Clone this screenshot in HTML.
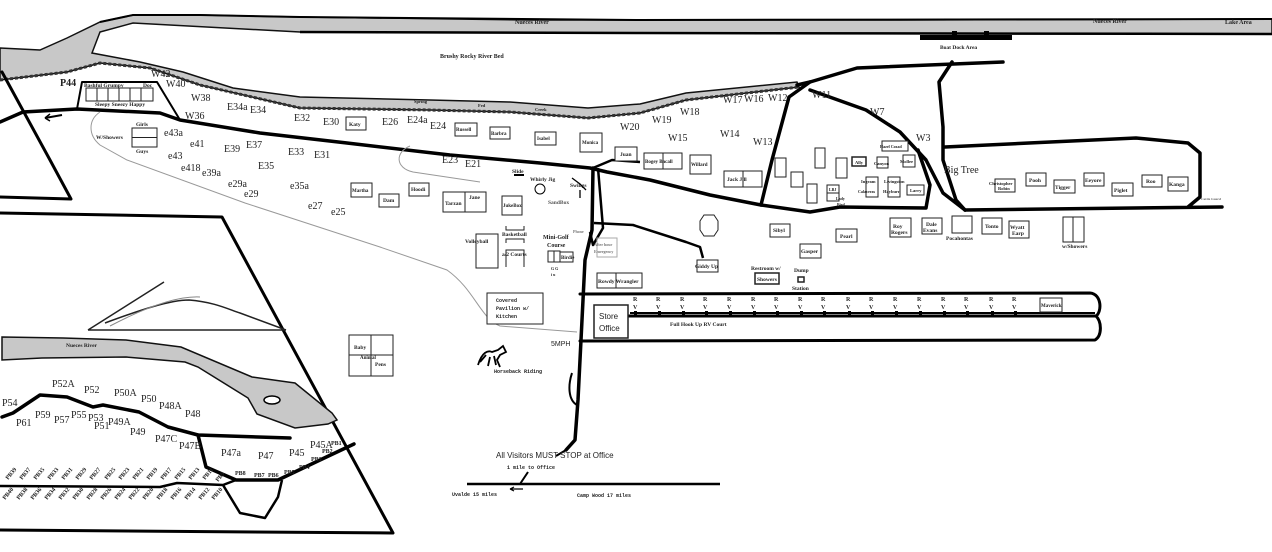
<!DOCTYPE html>
<html><head><meta charset="utf-8"><style>
html,body{margin:0;padding:0;background:#fff;}
svg{display:block;}
text{font-family:"Liberation Serif",serif;fill:#222;}
.s{font-size:10px;}
.t{font-size:5.5px;font-weight:bold;}
.m{font-size:5px;font-family:"Liberation Mono",monospace;font-weight:bold;}
.r{fill:none;stroke:#000;stroke-width:3.5;stroke-linejoin:round;stroke-linecap:round;}
.r2{fill:none;stroke:#000;stroke-width:2.5;stroke-linejoin:round;}
.b{fill:#fff;stroke:#222;stroke-width:1;}
.g{fill:none;stroke:#999;stroke-width:1;}
</style></head><body>
<svg width="1272" height="552" viewBox="0 0 1272 552" xmlns="http://www.w3.org/2000/svg">
<rect width="1272" height="552" fill="#fff"/>
<!-- top river -->
<path d="M0,48 L40,50 L67,38 L100,22 L133,15 L200,15 L300,17 L530,20 L900,20 L1272,19 L1272,34 L640,33 L300,32 L133,23 L100,32 L92,53 L140,62 L183,72 L233,88 L300,97 L430,100 L510,102 L588,108 L640,104 L686,93 L797,82 L799,87 L686,100 L640,113 L588,118 L510,112 L430,110 L300,108 L200,85 L150,68 L100,63 L67,72 L0,80 Z" fill="#c8c8c8" stroke="#111" stroke-width="1.5"/>
<path d="M0,80 L67,72 L100,63 L150,68 L200,85 L300,108 L430,110 L510,112 L588,118 L640,113 L686,100 L799,87" fill="none" stroke="#333" stroke-width="3" stroke-dasharray="3,2"/>
<path d="M300,32 L640,33 L1272,34" fill="none" stroke="#000" stroke-width="2.5"/>
<path d="M100,22 L133,15 L200,15 L300,17 L640,20 L1272,19" fill="none" stroke="#000" stroke-width="2"/>
<text x="515" y="24" class="t" style="font-size:6px">Nueces River</text>
<text x="1093" y="23" class="t" style="font-size:6px">Nueces River</text>
<text x="1225" y="24" class="t" style="font-size:6px">Lake Area</text>
<rect x="920" y="35" width="92" height="5" fill="#000"/>
<rect x="952" y="31" width="5" height="6" fill="#000"/><rect x="984" y="31" width="5" height="6" fill="#000"/>
<text x="940" y="49" class="t">Boat Dock Area</text>
<text x="440" y="58" class="t" style="font-size:6px">Brushy Rocky River Bed</text>
<text x="414" y="103" class="t" style="font-size:4.5px">Spring</text>
<text x="478" y="107" class="t" style="font-size:4.5px">Fed</text>
<text x="535" y="111" class="t" style="font-size:4.5px">Creek</text>
<!-- roads -->
<path class="r" d="M0,122 L23,112 L77,109 L160,113 L180,120 L260,133 L347,143 L450,155 L540,163 L590,168 L607,172 L650,180 L710,195 L761,205"/>
<path class="r" d="M77,109 L82,82 L157,82 L180,120" style="stroke-width:2"/>
<path class="r" d="M2,72 L50,160 L71,199 L0,197" style="stroke-width:3"/>
<path class="r" d="M0,213 L222,217 L393,533 L0,530" style="stroke-width:3"/>
<path d="M45,118 L62,115" stroke="#000" stroke-width="2"/><path d="M45,118 l5,-4 M45,118 l5,3" stroke="#000" stroke-width="1.5"/>
<path class="g" d="M100,112 C88,120 88,135 100,145 L127,160 L245,203 L380,247 L447,270 C475,290 480,318 500,326 L577,332"/>
<path class="g" d="M410,146 C395,152 395,168 413,172 L480,182"/>
<!-- vertical road -->
<path class="r" d="M593,168 L592,230 L585,260 L581,340 L578,400 L575,440 L566,450"/>
<path class="r2" d="M598,168 L603,228 L593,245 L590,232"/>
<path d="M572,373 C568,385 568,400 577,405" fill="none" stroke="#000" stroke-width="2"/>
<path class="r2" d="M593,168 L612,160 L640,162"/>
<path class="r2" d="M594,223 L633,225 L686,242 L700,247 L703,258"/>
<!-- W area roads -->
<path class="r" d="M797,85 L810,82 L857,68 L1003,62"/>
<path class="r" d="M952,62 L939,82 L943,127 L943,160 L956,200 L965,210"/>
<path class="r" d="M810,82 L789,97 L772,160 L761,205 L810,212 L840,207 L926,208 L930,185 L918,150"/>
<path class="r" d="M810,90 L866,110 L900,132 L926,160 L943,193 L965,210"/>
<path class="r" d="M945,147 L1029,143 L1136,138 L1188,143 L1200,153 L1200,197 L1188,207 M965,210 L1222,207"/>
<!-- inset river -->
<path d="M2,337 L63,338 L126,340 L181,347 L252,377 L295,383 L332,413 L337,420 L328,424 L295,428 L257,414 L248,398 L198,367 L185,362 L126,357 L42,358 L2,360 Z" fill="#c8c8c8" stroke="#111" stroke-width="1.5"/>
<text x="66" y="347" class="t" style="font-size:5.5px">Nueces River</text>
<path d="M88,330 L164,282 M88,330 L286,330 M105,323 C140,310 170,300 189,300 C215,302 230,310 240,313 L286,330" fill="none" stroke="#222" stroke-width="1.5"/>
<path d="M110,326 C150,305 180,296 200,297" fill="none" stroke="#888" stroke-width="1"/>
<ellipse cx="272" cy="400" rx="8" ry="4" fill="#fff" stroke="#000" stroke-width="1.5"/>
<path class="r" d="M2,417 L13,413 L40,395 L67,397 L93,407 L103,405 L139,412 L168,427 L198,435 L290,438"/>
<path class="r" d="M198,435 L206,467 L236,480 L278,480 L320,460 L354,444"/>
<path class="r2" d="M0,486 L160,487 L177,483 L223,485 L236,480 M223,485 L240,513 L265,518 L278,497 L282,480"/>
<!-- Bottom road -->
<path d="M566,450 L556,456" stroke="#000" stroke-width="2"/>
<path d="M528,472 L520,484" stroke="#000" stroke-width="2"/>
<path d="M467,484 L720,484" stroke="#000" stroke-width="2.5"/>
<path d="M510,489 L523,489 M510,489 l4,-2 M510,489 l4,2" stroke="#000" stroke-width="1.2"/>
<text x="496" y="458" style="font-family:'Liberation Sans',sans-serif;font-size:8px">All Visitors MUST STOP at Office</text>
<text x="507" y="469" class="m">1 mile to Office</text>
<text x="452" y="496" class="m">Uvalde 15 miles</text>
<text x="577" y="497" class="m">Camp Wood 17 miles</text>
<text x="551" y="346" style="font-family:'Liberation Sans',sans-serif;font-size:7px">5MPH</text>
<!-- RV court -->
<path d="M580,294 L1090,293 C1102,294 1102,312 1096,316 L600,316 M1096,316 C1102,322 1102,336 1095,340 L580,341" class="r" style="stroke-width:3"/>
<path d="M630,313 L1095,313" stroke="#000" stroke-width="2"/>
<rect x="594" y="305" width="34" height="33" class="b" style="stroke-width:1.5"/>
<text x="599" y="319" style="font-family:'Liberation Sans',sans-serif;font-size:8px">Store</text>
<text x="599" y="331" style="font-family:'Liberation Sans',sans-serif;font-size:8px">Office</text>
<text x="670" y="326" class="t">Full Hook Up RV Court</text>
<rect x="1040" y="298" width="22" height="14" class="b"/><text x="1041" y="307" class="t" style="font-size:5px">Maverick</text>
<!-- Boxes -->
<g>
<rect x="86" y="88" width="67" height="13" class="b"/>
<path d="M97,88v13M108,88v13M119,88v13M130,88v13M141,88v13" stroke="#222"/>
<text x="84" y="87" class="t">Bashful Grumpy</text><text x="143" y="87" class="t">Doc</text>
<text x="95" y="106" class="t">Sleepy  Sneezy Happy</text>
<rect x="132" y="128" width="25" height="19" class="b"/><path d="M132,137.5h25" stroke="#222"/>
<text x="136" y="126" class="t">Girls</text><text x="136" y="153" class="t">Guys</text>
<text x="96" y="139" class="t">W/Showers</text>
<rect x="346" y="117" width="20" height="13" class="b"/><text x="349" y="126" class="t">Katy</text>
<rect x="455" y="123" width="22" height="13" class="b"/><text x="456" y="131" class="t" style="font-size:5px">Russell</text>
<rect x="490" y="127" width="20" height="12" class="b"/><text x="491" y="135" class="t" style="font-size:5px">Barbra</text>
<rect x="535" y="132" width="21" height="13" class="b"/><text x="537" y="140" class="t" style="font-size:5px">Isabel</text>
<rect x="580" y="133" width="22" height="19" class="b"/><text x="582" y="144" class="t" style="font-size:5px">Monica</text>
<rect x="615" y="147" width="22" height="14" class="b"/><text x="620" y="156" class="t">Juan</text>
<rect x="644" y="153" width="38" height="16" class="b"/><path d="M663,153v16" stroke="#222"/><text x="645" y="163" class="t" style="font-size:5px">Bogey Bacall</text>
<rect x="690" y="155" width="21" height="19" class="b"/><text x="691" y="166" class="t" style="font-size:5px">Willard</text>
<rect x="724" y="171" width="38" height="16" class="b"/><path d="M743,171v16" stroke="#222"/><text x="727" y="181" class="t">Jack   Jill</text>
<rect x="351" y="183" width="21" height="14" class="b"/><text x="352" y="192" class="t" style="font-size:5px">Martha</text>
<rect x="379" y="194" width="20" height="13" class="b"/><text x="383" y="202" class="t">Dam</text>
<rect x="409" y="183" width="20" height="13" class="b"/><text x="411" y="191" class="t">Hoodi</text>
<rect x="443" y="192" width="43" height="20" class="b"/><path d="M465,192v20" stroke="#222"/><text x="445" y="205" class="t">Tarzan</text><text x="469" y="199" class="t">Jane</text>
<rect x="502" y="196" width="20" height="19" class="b"/><text x="503" y="207" class="t" style="font-size:5px">JukeBox</text>
<text x="512" y="173" class="t">Slide</text><path d="M514,175h10" stroke="#000" stroke-width="2"/>
<text x="530" y="181" class="t">Whirly Jig</text><circle cx="540" cy="189" r="5" fill="none" stroke="#000"/>
<text x="570" y="187" class="t">Swings</text><path d="M572,178l8,6 6,6 M580,190v8" stroke="#000" stroke-width="1.3" fill="none"/>
<text x="548" y="204" class="t" style="fill:#555">SandBox</text>
<rect x="476" y="234" width="22" height="34" class="b"/><text x="465" y="243" class="t">Volleyball</text>
<path d="M506,226v4h18v-4M506,243v-4h18v4M506,267v-17h18v17" fill="none" stroke="#222"/>
<text x="502" y="236" class="t">Basketball</text><text x="502" y="256" class="t">a/2 Courts</text>
<text x="543" y="239" class="t" style="font-size:6px">Mini-Golf</text><text x="547" y="247" class="t" style="font-size:6px">Course</text>
<rect x="548" y="251" width="12" height="11" class="b"/><path d="M554,251v11" stroke="#222"/>
<rect x="560" y="252" width="13" height="10" class="b"/><text x="561" y="259" class="t" style="font-size:5px">Birdie</text>
<text x="551" y="270" class="t" style="font-size:4px">G G</text><text x="551" y="276" class="t" style="font-size:4px">i u</text>
<text x="573" y="233" class="t" style="font-size:4px;fill:#777">Phone</text>
<rect x="597" y="238" width="20" height="19" fill="none" stroke="#aaa"/><text x="594" y="246" class="t" style="font-size:4px;fill:#777">After hour</text><text x="594" y="253" class="t" style="font-size:4px;fill:#777">Emergency</text>
<rect x="597" y="273" width="45" height="15" class="b"/><path d="M616,273v15" stroke="#222"/><text x="598" y="283" class="t">Rowdy Wrangler</text>
<rect x="487" y="293" width="56" height="31" class="b"/><text x="496" y="302" class="m">Covered</text><text x="496" y="310" class="m">Pavilion w/</text><text x="496" y="318" class="m">Kitchen</text>
<rect x="349" y="335" width="44" height="41" class="b"/><path d="M371,335v41M349,355h44" stroke="#222"/>
<text x="354" y="349" class="t">Baby</text><text x="360" y="359" class="t" style="font-size:5px">Animal</text><text x="375" y="366" class="t">Pens</text>
<text x="494" y="373" class="m">Horseback Riding</text>
<path d="M478,365 C482,352 488,350 492,352 L498,350 L503,346 L506,352 L500,355 L497,360 L500,367 M486,355 L480,362 M490,357 L488,366 M494,356 L496,365" fill="none" stroke="#000" stroke-width="1.8"/>
<polygon points="704,215 714,215 718,221 718,230 714,236 704,236 700,230 700,221" class="b"/>
<rect x="770" y="224" width="20" height="13" class="b"/><text x="773" y="232" class="t">Sibyl</text>
<rect x="836" y="229" width="21" height="13" class="b"/><text x="840" y="238" class="t">Pearl</text>
<rect x="800" y="244" width="21" height="14" class="b"/><text x="801" y="253" class="t">Gasper</text>
<rect x="697" y="260" width="21" height="12" class="b"/><text x="695" y="268" class="t">Giddy Up</text>
<text x="751" y="270" class="t">Restroom w/</text><rect x="755" y="273" width="24" height="11" class="b" style="stroke-width:1.5"/><text x="757" y="281" class="t">Showers</text>
<text x="794" y="272" class="t">Dump</text><rect x="798" y="277" width="6" height="5" class="b" style="stroke-width:1.5"/><text x="792" y="290" class="t">Station</text>
<rect x="890" y="218" width="21" height="19" class="b"/><text x="893" y="228" class="t">Roy</text><text x="891" y="234" class="t">Rogers</text>
<rect x="922" y="218" width="20" height="16" class="b"/><text x="926" y="226" class="t">Dale</text><text x="923" y="232" class="t">Evans</text>
<rect x="952" y="216" width="20" height="17" class="b"/><text x="946" y="240" class="t">Pocahontas</text>
<rect x="982" y="218" width="20" height="16" class="b"/><text x="985" y="228" class="t">Tonto</text>
<rect x="1009" y="221" width="20" height="17" class="b"/><text x="1010" y="229" class="t">Wyatt</text><text x="1012" y="235" class="t">Earp</text>
<rect x="1063" y="217" width="21" height="25" class="b"/><path d="M1073,217v25" stroke="#222"/><text x="1062" y="248" class="t">w/Showers</text>
<rect x="995" y="179" width="20" height="13" class="b"/><text x="989" y="185" class="t" style="font-size:4.5px">Christopher</text><text x="998" y="190" class="t" style="font-size:4.5px">Robin</text>
<rect x="1026" y="173" width="20" height="13" class="b"/><text x="1029" y="182" class="t">Pooh</text>
<rect x="1054" y="180" width="21" height="13" class="b"/><text x="1055" y="189" class="t">Tigger</text>
<rect x="1084" y="173" width="20" height="13" class="b"/><text x="1085" y="182" class="t">Eeyore</text>
<rect x="1112" y="183" width="21" height="13" class="b"/><text x="1114" y="192" class="t">Piglet</text>
<rect x="1142" y="175" width="20" height="12" class="b"/><text x="1146" y="183" class="t">Roo</text>
<rect x="1168" y="177" width="20" height="14" class="b"/><text x="1169" y="186" class="t">Kanga</text>
<text x="1201" y="200" class="t" style="font-size:3.5px;fill:#666">Cattle Guard</text>
<text x="944" y="173" class="s" style="font-size:10px">Big Tree</text>
<rect x="775" y="158" width="11" height="19" class="b"/><rect x="815" y="148" width="10" height="20" class="b"/><rect x="836" y="158" width="11" height="20" class="b"/>
<rect x="807" y="184" width="10" height="19" class="b"/><rect x="791" y="172" width="12" height="15" class="b"/>
<rect x="852" y="157" width="14" height="9" class="b" style="stroke-width:1.5"/><text x="855" y="164" class="t" style="font-size:4.5px">Ally</text>
<rect x="877" y="157" width="11" height="11" class="b"/><text x="874" y="165" class="t" style="font-size:4.5px">Canyon</text>
<rect x="882" y="141" width="26" height="10" class="b"/><text x="880" y="148" class="t" style="font-size:4px">Hazel Cozad</text>
<rect x="903" y="155" width="12" height="12" class="b"/><text x="900" y="163" class="t" style="font-size:4.5px">Mollee</text>
<rect x="866" y="177" width="12" height="20" class="b"/><text x="861" y="183" class="t" style="font-size:4.5px">Ingram</text><text x="858" y="193" class="t" style="font-size:4px">Calaveras</text>
<rect x="888" y="177" width="12" height="20" class="b"/><text x="884" y="183" class="t" style="font-size:4.5px">Livingston</text><text x="883" y="193" class="t" style="font-size:4.5px">Hayburn</text>
<rect x="907" y="185" width="17" height="10" class="b"/><text x="910" y="192" class="t" style="font-size:4.5px">Larry</text>
<rect x="827" y="185" width="12" height="8" class="b"/><rect x="827" y="193" width="12" height="8" class="b"/><text x="829" y="191" class="t" style="font-size:4px">LBJ</text><text x="836" y="200" class="t" style="font-size:4px">Lady</text><text x="837" y="206" class="t" style="font-size:4px">Bird</text>
</g>
<!-- RV labels -->
<g class="t" style="font-size:6px">
<text x="633" y="301">R</text><text x="633" y="309">V</text>
<text x="656" y="301">R</text><text x="656" y="309">V</text>
<text x="680" y="301">R</text><text x="680" y="309">V</text>
<text x="703" y="301">R</text><text x="703" y="309">V</text>
<text x="727" y="301">R</text><text x="727" y="309">V</text>
<text x="751" y="301">R</text><text x="751" y="309">V</text>
<text x="774" y="301">R</text><text x="774" y="309">V</text>
<text x="798" y="301">R</text><text x="798" y="309">V</text>
<text x="821" y="301">R</text><text x="821" y="309">V</text>
<text x="846" y="301">R</text><text x="846" y="309">V</text>
<text x="869" y="301">R</text><text x="869" y="309">V</text>
<text x="893" y="301">R</text><text x="893" y="309">V</text>
<text x="917" y="301">R</text><text x="917" y="309">V</text>
<text x="941" y="301">R</text><text x="941" y="309">V</text>
<text x="964" y="301">R</text><text x="964" y="309">V</text>
<text x="989" y="301">R</text><text x="989" y="309">V</text>
<text x="1012" y="301">R</text><text x="1012" y="309">V</text>
</g>
<g fill="#000">
<rect x="634" y="311" width="3" height="4"/><rect x="658" y="311" width="3" height="4"/><rect x="682" y="311" width="3" height="4"/><rect x="705" y="311" width="3" height="4"/><rect x="729" y="311" width="3" height="4"/><rect x="753" y="311" width="3" height="4"/><rect x="776" y="311" width="3" height="4"/><rect x="800" y="311" width="3" height="4"/><rect x="823" y="311" width="3" height="4"/><rect x="848" y="311" width="3" height="4"/><rect x="871" y="311" width="3" height="4"/><rect x="895" y="311" width="3" height="4"/><rect x="919" y="311" width="3" height="4"/><rect x="943" y="311" width="3" height="4"/><rect x="966" y="311" width="3" height="4"/><rect x="991" y="311" width="3" height="4"/><rect x="1014" y="311" width="3" height="4"/>
</g>
<!-- site labels -->
<g class="s">
<text x="60" y="86" style="font-weight:bold">P44</text>
<text x="151" y="77">W42</text><text x="166" y="87">W40</text><text x="191" y="101">W38</text><text x="185" y="119">W36</text>
<text x="227" y="110">E34a</text><text x="250" y="113">E34</text><text x="294" y="121">E32</text><text x="323" y="125">E30</text>
<text x="382" y="125">E26</text><text x="407" y="123">E24a</text><text x="430" y="129">E24</text>
<text x="164" y="136">e43a</text><text x="190" y="147">e41</text><text x="224" y="152">E39</text><text x="246" y="148">E37</text>
<text x="288" y="155">E33</text><text x="314" y="158">E31</text><text x="168" y="159">e43</text><text x="258" y="169">E35</text>
<text x="442" y="163">E23</text><text x="465" y="167">E21</text><text x="181" y="171">e418</text><text x="202" y="176">e39a</text>
<text x="228" y="187">e29a</text><text x="244" y="197">e29</text><text x="290" y="189">e35a</text><text x="308" y="209">e27</text><text x="331" y="215">e25</text>
<text x="620" y="130">W20</text><text x="652" y="123">W19</text><text x="680" y="115">W18</text><text x="668" y="141">W15</text>
<text x="720" y="137">W14</text><text x="753" y="145">W13</text><text x="723" y="103">W17</text><text x="744" y="102">W16</text><text x="768" y="101">W12</text>
<text x="812" y="98">W11</text><text x="870" y="115">W7</text><text x="916" y="141">W3</text>
<text x="52" y="387">P52A</text><text x="84" y="393">P52</text><text x="114" y="396">P50A</text><text x="141" y="402">P50</text><text x="159" y="409">P48A</text><text x="185" y="417">P48</text>
<text x="2" y="406">P54</text><text x="35" y="418">P59</text><text x="54" y="423">P57</text><text x="71" y="418">P55</text><text x="88" y="421">P53</text><text x="94" y="429">P51</text><text x="108" y="425">P49A</text><text x="16" y="426">P61</text>
<text x="130" y="435">P49</text><text x="155" y="442">P47C</text><text x="179" y="449">P47B</text>
<text x="221" y="456">P47a</text><text x="258" y="459">P47</text><text x="289" y="456">P45</text><text x="310" y="448">P45A</text>
</g>
<g class="t" style="font-size:6px">
<text x="331" y="445">PB1</text><text x="322" y="453">PB2</text><text x="311" y="461">PB3</text><text x="299" y="469">PB4</text><text x="284" y="474">PB5</text><text x="268" y="477">PB6</text><text x="254" y="477">PB7</text><text x="235" y="475">PB8</text>
</g>
<g class="t" style="font-size:6px">
<text transform="translate(8,480) rotate(-50)">PB39</text><text transform="translate(22,480) rotate(-50)">PB37</text><text transform="translate(36,480) rotate(-50)">PB35</text><text transform="translate(50,480) rotate(-50)">PB33</text><text transform="translate(64,480) rotate(-50)">PB31</text><text transform="translate(78,480) rotate(-50)">PB29</text><text transform="translate(92,480) rotate(-50)">PB27</text><text transform="translate(107,480) rotate(-50)">PB25</text><text transform="translate(121,480) rotate(-50)">PB23</text><text transform="translate(135,480) rotate(-50)">PB21</text><text transform="translate(149,480) rotate(-50)">PB19</text><text transform="translate(163,480) rotate(-50)">PB17</text><text transform="translate(177,480) rotate(-50)">PB15</text><text transform="translate(191,480) rotate(-50)">PB13</text><text transform="translate(205,480) rotate(-50)">PB11</text><text transform="translate(218,482) rotate(-50)">PB9</text>
<text transform="translate(5,500) rotate(-50)">PB40</text><text transform="translate(19,500) rotate(-50)">PB38</text><text transform="translate(33,500) rotate(-50)">PB36</text><text transform="translate(47,500) rotate(-50)">PB34</text><text transform="translate(61,500) rotate(-50)">PB32</text><text transform="translate(75,500) rotate(-50)">PB30</text><text transform="translate(89,500) rotate(-50)">PB28</text><text transform="translate(103,500) rotate(-50)">PB26</text><text transform="translate(117,500) rotate(-50)">PB24</text><text transform="translate(131,500) rotate(-50)">PB22</text><text transform="translate(145,500) rotate(-50)">PB20</text><text transform="translate(159,500) rotate(-50)">PB18</text><text transform="translate(173,500) rotate(-50)">PB16</text><text transform="translate(187,500) rotate(-50)">PB14</text><text transform="translate(201,500) rotate(-50)">PB12</text><text transform="translate(214,500) rotate(-50)">PB10</text>
</g>
</svg>
</body></html>
